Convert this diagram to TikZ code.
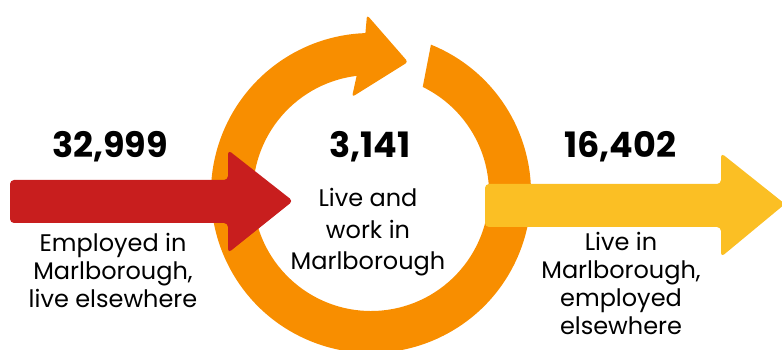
\documentclass[tikz,border=0pt]{standalone}
\usepackage{fontspec}
\setmainfont{Poppins}
\definecolor{ringorange}{HTML}{F88E00}
\definecolor{inred}{HTML}{C81E1E}
\definecolor{outyellow}{HTML}{FBBF24}
\begin{document}
\begin{tikzpicture}[x=1pt,y=1pt,
  num/.style={font=\bfseries\fontsize{35}{35}\selectfont, anchor=base, inner sep=0pt},
  desc/.style={font=\fontsize{24}{28}\selectfont, align=center, anchor=base, inner sep=0pt},
  descc/.style={desc, font=\fontsize{24}{31.5}\selectfont}]
\useasboundingbox (0,0) rectangle (782,350);
% ring
\begin{scope}[shift={(371,157)}]
\fill[ringorange] (68:160) arc[start angle=68, end angle=-268, radius=160]
  [rounded corners=3pt] -- (-4,178) -- (37,131) -- (-19,96) [sharp corners] -- (-263:118)
  arc[start angle=-263, end angle=64, radius=118] -- cycle;
\end{scope}
% incoming arrow
\fill[inred, rounded corners=4pt] (10,170) -- (228,170) -- (228,200) -- (293,149) -- (228,97) -- (228,127) -- (10,127) -- cycle;
% outgoing arrow
\fill[outyellow, rounded corners=4pt] (485,166) -- (721,166) -- (721,197) -- (785,146) -- (721,93) -- (721,123) -- (485,123) -- cycle;
% numbers
\node[num] (n1) at (110,192) {32,999};
\node[num] (n2) at (370,192) {3,141};
\node[num] (n3) at (620,192) {16,402};
% descriptions (base = last line's baseline)
\node[desc] (d1) at (113,42) {Employed in\\Marlborough,\\live elsewhere};
\node[descc] (d2) at (368,80) {Live and\\work in\\Marlborough};
\node[desc] (d3) at (621,15) {Live in\\Marlborough,\\employed\\elsewhere};
\end{tikzpicture}
\end{document}
